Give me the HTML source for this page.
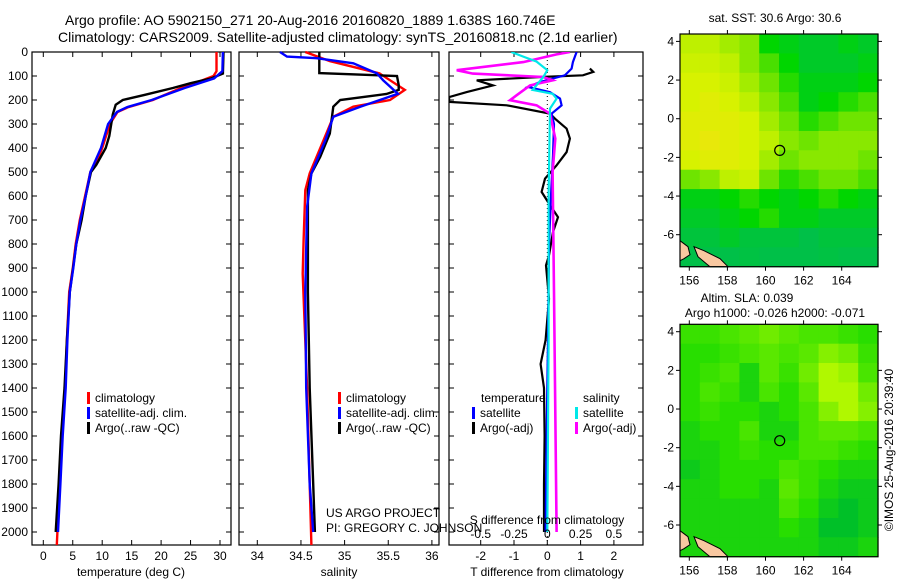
<!DOCTYPE html>
<html><head><meta charset="utf-8"><title>Argo profile</title>
<style>
html,body{margin:0;padding:0;background:#fff;}
svg{display:block;font-family:"Liberation Sans",Arial,sans-serif;}
text{fill:#000;}
</style></head>
<body>
<svg id="fig" width="900" height="580" viewBox="0 0 900 580" xmlns="http://www.w3.org/2000/svg">
<text x="65" y="25" font-size="14">Argo profile: AO 5902150_271 20-Aug-2016 20160820_1889 1.638S 160.746E</text>
<text x="58" y="42" font-size="14">Climatology: CARS2009. Satellite-adjusted climatology: synTS_20160818.nc (2.1d earlier)</text>
<g id="g"></g>
</svg>
<script>
// ---------------- DATA ----------------
const depthTicks=[0,100,200,300,400,500,600,700,800,900,1000,1100,1200,1300,1400,1500,1600,1700,1800,1900,2000];
const tempTicks=[0,5,10,15,20,25,30];
const salTicks=[34,34.5,35,35.5,36];
const tdiffTicks=[-2,-1,0,1,2];
const sdiffTicks=[-0.5,-0.25,0,0.25,0.5];
// temperature profiles [depth, degC]
const tempClim=[[0,29.4],[80,29.4],[100,28.9],[120,26.8],[150,23.4],[180,20.5],[200,18.6],[230,14.4],[250,12.6],[300,11.3],[400,10.0],[450,9.2],[500,8.0],[600,7.1],[700,6.2],[800,5.5],[900,5.0],[1000,4.4],[1200,4.0],[1400,3.7],[1600,3.2],[1800,2.8],[2000,2.4],[2054,2.3]];
const tempSat=[[0,30.5],[80,30.4],[110,29.0],[150,24.0],[200,18.4],[230,14.2],[250,12.5],[300,11.0],[400,9.8],[500,8.0],[600,7.2],[700,6.3],[800,5.6],[900,5.1],[1000,4.5],[1200,4.1],[1400,3.8],[1600,3.3],[1800,2.9],[2000,2.5]];
const tempArgo=[[0,30.6],[90,30.5],[110,28.5],[130,25],[150,22],[180,17],[200,13.5],[220,12.3],[260,11.8],[350,11.2],[400,10.6],[470,9.0],[500,8.1],[600,7.2],[700,6.5],[800,5.6],[1000,4.5],[1200,4.0],[1400,3.6],[1600,3.0],[1800,2.6],[2000,2.1]];
// salinity profiles [depth, psu]
const salClim=[[0,34.55],[38,34.83],[89,35.40],[158,35.69],[200,35.52],[228,35.10],[270,34.87],[367,34.76],[506,34.60],[576,34.55],[785,34.53],[924,34.52],[1400,34.57],[1800,34.6],[2054,34.62]];
const salSat=[[0,34.26],[19,34.34],[26,34.68],[47,35.10],[89,35.37],[117,35.44],[174,35.61],[228,35.18],[270,34.87],[367,34.78],[506,34.62],[645,34.57],[1000,34.55],[1400,34.56],[1800,34.6],[2000,34.64]];
const salArgo=[[0,34.71],[88,34.71],[100,35.6],[138,35.62],[158,35.62],[175,35.48],[200,34.95],[228,34.87],[340,34.83],[437,34.72],[506,34.62],[576,34.58],[1000,34.58],[1400,34.6],[1800,34.64],[2000,34.66]];
// differences from climatology
const tdiffSat=[[0,0.88],[42,0.77],[69,0.73],[97,0.53],[125,-0.22],[146,-0.58],[167,0.08],[194,0.38],[222,0.43],[257,0.13],[300,0.2],[431,0.17],[570,0.12],[800,0.05],[1200,0.02],[1600,-0.02],[2000,-0.05]];
const tdiffArgo=[[69,1.28],[83,1.38],[97,1.07],[104,-0.2],[118,-2.12],[139,-1.63],[167,-2.42],[188,-2.95],[208,-2.95],[222,-1.22],[257,0.08],[278,0.23],[319,0.58],[361,0.68],[417,0.58],[472,0.28],[528,-0.07],[583,-0.17],[625,0.02],[688,0.32],[750,0.17],[847,0.05],[889,-0.04],[1028,0.05],[1200,-0.05],[1300,-0.2],[1400,-0.1],[1600,-0.08],[1800,-0.1],[2000,-0.1]];
const sdiffSat=[[0,-0.27],[19,-0.18],[40,-0.08],[76,0.0],[104,-0.03],[158,-0.11],[174,0.04],[194,0.07],[236,0.02],[600,0.01],[1200,0.01],[2000,0.0]];
const sdiffArgo=[[0,0.17],[10,0.07],[42,-0.18],[76,-0.68],[90,-0.56],[104,-0.03],[118,0.04],[139,-0.13],[180,-0.23],[201,-0.28],[222,-0.08],[257,0.02],[361,0.06],[500,0.04],[1000,0.05],[1500,0.06],[2000,0.07]];
// maps
const lonTicks=[156,158,160,162,164];
const latTicks=[4,2,0,-2,-4,-6];
const floatLon=160.746, floatLat=-1.638;
const sstGrid=[
[0.7,0.7,0.65,0.6,0.4,0.35,0.3,0.3,0.35,0.3],
[0.75,0.75,0.7,0.6,0.5,0.4,0.3,0.3,0.3,0.35],
[0.8,0.8,0.75,0.65,0.55,0.45,0.35,0.35,0.35,0.4],
[0.8,0.85,0.8,0.7,0.6,0.5,0.35,0.4,0.45,0.5],
[0.85,0.85,0.85,0.8,0.65,0.55,0.45,0.5,0.55,0.55],
[0.85,0.9,0.85,0.8,0.7,0.6,0.55,0.6,0.6,0.6],
[0.8,0.85,0.85,0.8,0.65,0.55,0.6,0.6,0.6,0.55],
[0.55,0.6,0.7,0.75,0.55,0.45,0.5,0.55,0.55,0.5],
[0.35,0.35,0.4,0.45,0.4,0.35,0.4,0.45,0.4,0.35],
[0.3,0.3,0.35,0.4,0.45,0.35,0.35,0.3,0.3,0.3],
[0.25,0.25,0.3,0.25,0.25,0.25,0.2,0.25,0.25,0.25],
[0.2,0.2,0.2,0.22,0.2,0.2,0.2,0.22,0.2,0.2]];
const slaGrid=[
[0.4,0.4,0.45,0.5,0.55,0.5,0.45,0.45,0.4,0.35],
[0.35,0.35,0.4,0.45,0.5,0.45,0.5,0.6,0.55,0.4],
[0.35,0.4,0.45,0.3,0.5,0.4,0.55,0.75,0.65,0.45],
[0.35,0.45,0.4,0.3,0.45,0.35,0.5,0.7,0.7,0.55],
[0.35,0.4,0.35,0.35,0.3,0.35,0.45,0.6,0.7,0.6],
[0.3,0.35,0.35,0.45,0.3,0.3,0.45,0.5,0.5,0.45],
[0.3,0.3,0.35,0.4,0.35,0.35,0.45,0.45,0.4,0.35],
[0.25,0.3,0.35,0.35,0.35,0.45,0.4,0.35,0.3,0.3],
[0.3,0.3,0.35,0.35,0.3,0.5,0.4,0.3,0.25,0.25],
[0.3,0.3,0.3,0.3,0.3,0.45,0.35,0.25,0.2,0.25],
[0.3,0.3,0.3,0.3,0.3,0.35,0.3,0.2,0.2,0.25],
[0.3,0.3,0.3,0.3,0.3,0.3,0.3,0.25,0.25,0.3]];

// ---------------- RENDER ----------------
const NS="http://www.w3.org/2000/svg";
const G=document.getElementById('g');
function el(tag,attrs,parent){const e=document.createElementNS(NS,tag);for(const k in attrs)e.setAttribute(k,attrs[k]);(parent||G).appendChild(e);return e;}
function txt(x,y,s,size,anchor,parent){const t=el('text',{x:x,y:y,'font-size':size||12,'text-anchor':anchor||'start'},parent);t.textContent=s;return t;}

const TOP=52, BOT=545;
const yD=d=>TOP+d*0.24;
const xT=v=>43.3+v*5.89;
const xS=v=>257.3+(v-34)*87.3;
const xTd=v=>547.3+v*33.3;
const xSd=v=>547.3+v*133.2;

function frame(x0,x1,name){
  const r=el('rect',{x:x0,y:TOP,width:x1-x0,height:BOT-TOP,fill:'none',stroke:'#000','stroke-width':1.2});
  
  
  depthTicks.forEach(d=>{
    el('line',{x1:x0,x2:x0+5,y1:yD(d),y2:yD(d),stroke:'#000'});
    el('line',{x1:x1-5,x2:x1,y1:yD(d),y2:yD(d),stroke:'#000'});
  });
}
function series(data,xf,color,name,w,clipId){
  const p=el('polyline',{points:data.map(a=>xf(a[1]).toFixed(1)+','+yD(a[0]).toFixed(1)).join(' '),fill:'none',stroke:color,'stroke-width':w||2.4,'stroke-linejoin':'miter'});
  if(clipId)p.setAttribute('clip-path','url(#'+clipId+')');
  
  
}
function xticks(ticks,xf,x0,x1,labelY,fmt,bottomOnly){
  ticks.forEach(v=>{
    const x=xf(v);
    el('line',{x1:x,x2:x,y1:BOT-5,y2:BOT,stroke:'#000'});
    if(!bottomOnly)el('line',{x1:x,x2:x,y1:TOP,y2:TOP+5,stroke:'#000'});
    if(labelY){const t=txt(x,labelY,fmt?fmt(v):String(v),12,'middle');
      
      }
  });
}
function legendItem(x,y,color,label){
  el('rect',{x:x,y:y-10,width:3,height:12,fill:color});
  const t=txt(x+8,y,label,12);
  
  
}

depthTicks.forEach(d=>{const t=txt(28,yD(d)+4,String(d),12,'end');
  
  });

const defs=el('defs',{});
const cp=el('clipPath',{id:'c3'},defs);
el('rect',{x:449,y:TOP,width:194,height:BOT-TOP},cp);

// Panel 1 temperature
frame(32,231,'temperature-panel');
xticks(tempTicks,xT,32,231,560);
series(tempClim,xT,'#ff0000','temp-climatology-line');
series(tempArgo,xT,'#000000','temp-argo-line');
series(tempSat,xT,'#0000ff','temp-satellite-line');
{const t=txt(131,576,'temperature (deg C)',12,'middle');}
legendItem(87,402,'#ff0000','climatology');
legendItem(87,417,'#0000ff','satellite-adj. clim.');
legendItem(87,432,'#000000','Argo(..raw -QC)');

// Panel 2 salinity
frame(239,439,'salinity-panel');
xticks(salTicks,xS,239,439,560);
series(salClim,xS,'#ff0000','sal-climatology-line');
series(salArgo,xS,'#000000','sal-argo-line');
series(salSat,xS,'#0000ff','sal-satellite-line');
{const t=txt(339,576,'salinity',12,'middle');}
legendItem(338,402,'#ff0000','climatology');
legendItem(338,417,'#0000ff','satellite-adj. clim.');
legendItem(338,432,'#000000','Argo(..raw -QC)');
{const t=txt(326,517,'US ARGO PROJECT',12);
 const t2=txt(326,532,'PI: GREGORY C. JOHNSON',12);}

// Panel 3 differences
frame(449,643,'difference-panel');
el('line',{x1:xTd(0),x2:xTd(0),y1:TOP,y2:BOT,stroke:'#000','stroke-dasharray':'1,3'});
xticks(tdiffTicks,xTd,449,643,560,null,false);
series(tdiffArgo,xTd,'#000000','tdiff-argo-line',2.2,'c3');
series(tdiffSat,xTd,'#0000ff','tdiff-satellite-line',2.2,'c3');
series(sdiffArgo,xSd,'#ff00ff','sdiff-argo-line',2.6,'c3');
series(sdiffSat,xSd,'#00e8e8','sdiff-satellite-line',2.2,'c3');
sdiffTicks.forEach(v=>{const t=txt(xSd(v),538,String(v),12,'middle');});
{const t=txt(547,524,'S difference from climatology',12,'middle');
 const t2=txt(547,576,'T difference from climatology',12,'middle');}
{const t=txt(481,402,'temperature',12);
 const t2=txt(583,402,'salinity',12);}
legendItem(472,417,'#0000ff','satellite');
legendItem(472,432,'#000000','Argo(-adj)');
legendItem(575,417,'#00e8e8','satellite');
legendItem(575,432,'#ff00ff','Argo(-adj)');

// ---------------- MAPS ----------------
const MX0=680, MX1=878;
const lonX=l=>689.3+(l-156)*19.05;
function lerp(a,b,t){return a+(b-a)*t;}
function ramp(stops,v){
  for(let i=0;i<stops.length-1;i++){const a=stops[i],b=stops[i+1];
    if(v<=b[0]){const t=Math.max(0,(v-a[0])/(b[0]-a[0]));
      return 'rgb('+[1,2,3].map(k=>Math.round(lerp(a[k],b[k],t))).join(',')+')';}}
  const l=stops[stops.length-1];return 'rgb('+l[1]+','+l[2]+','+l[3]+')';
}
const sstStops=[[0,0,176,120],[0.25,0,196,60],[0.4,0,214,0],[0.55,110,228,0],[0.7,190,240,0],[0.8,215,242,0],[0.9,232,232,10]];
const slaStops=[[0.2,0,192,40],[0.35,40,222,0],[0.5,90,232,0],[0.7,176,248,0]];
function map(top,bot,grid,stops,name){
  const latY=la=>top+7.4+(4-la)*19.33;
  const g=el('g',{});
  
  
  const cw=(MX1-MX0)/grid[0].length, ch=(bot-top)/grid.length;
  grid.forEach((row,r)=>row.forEach((v,c)=>{
    const cell=el('rect',{x:(MX0+c*cw).toFixed(1),y:(top+r*ch).toFixed(1),width:(cw+0.6).toFixed(1),height:(ch+0.6).toFixed(1),fill:ramp(stops,v)},g);
    
    
  }));
  const land=el('path',{d:`M${MX0},${bot-26} L${MX0+8},${bot-20} L${MX0+10},${bot-12} L${MX0+4},${bot-8} L${MX0},${bot-6} Z M${MX0+14},${bot-20} L${MX0+24},${bot-16} L${MX0+40},${bot-8} L${MX0+48},${bot} L${MX0+30},${bot} L${MX0+18},${bot-10} Z`,fill:'#f8c8a0',stroke:'#000','stroke-width':1},g);
  
  
  el('rect',{x:MX0,y:top,width:MX1-MX0,height:bot-top,fill:'none',stroke:'#000','stroke-width':1.2},g);
  lonTicks.forEach(l=>{const x=lonX(l);
    el('line',{x1:x,x2:x,y1:top,y2:top-4,stroke:'#000'},g);
    el('line',{x1:x,x2:x,y1:bot,y2:bot+4,stroke:'#000'},g);
    const t=txt(x,bot+18,String(l),12,'middle',g);});
  latTicks.forEach(la=>{const y=latY(la);
    el('line',{x1:MX0,x2:MX0-4,y1:y,y2:y,stroke:'#000'},g);
    el('line',{x1:MX1,x2:MX1+4,y1:y,y2:y,stroke:'#000'},g);
    const t=txt(674,y+4,String(la),12,'end',g);});
  const c=el('circle',{cx:lonX(floatLon),cy:latY(floatLat),r:5,fill:'none',stroke:'#000','stroke-width':1.2},g);
  
  
}
map(34,266.7,sstGrid,sstStops,'sst-map');
map(324.3,556.7,slaGrid,slaStops,'sla-map');
{const t=txt(775,22,'sat. SST: 30.6 Argo: 30.6',12,'middle');
 const t2=txt(747,302,'Altim. SLA: 0.039',12,'middle');
 const t3=txt(775,317,'Argo h1000: -0.026 h2000: -0.071',12,'middle');
 const t4=txt(0,0,'©IMOS 25-Aug-2016 20:39:40',12,'middle');t4.setAttribute('transform','translate(893,450) rotate(-90)');
 }
</script>
</body></html>
